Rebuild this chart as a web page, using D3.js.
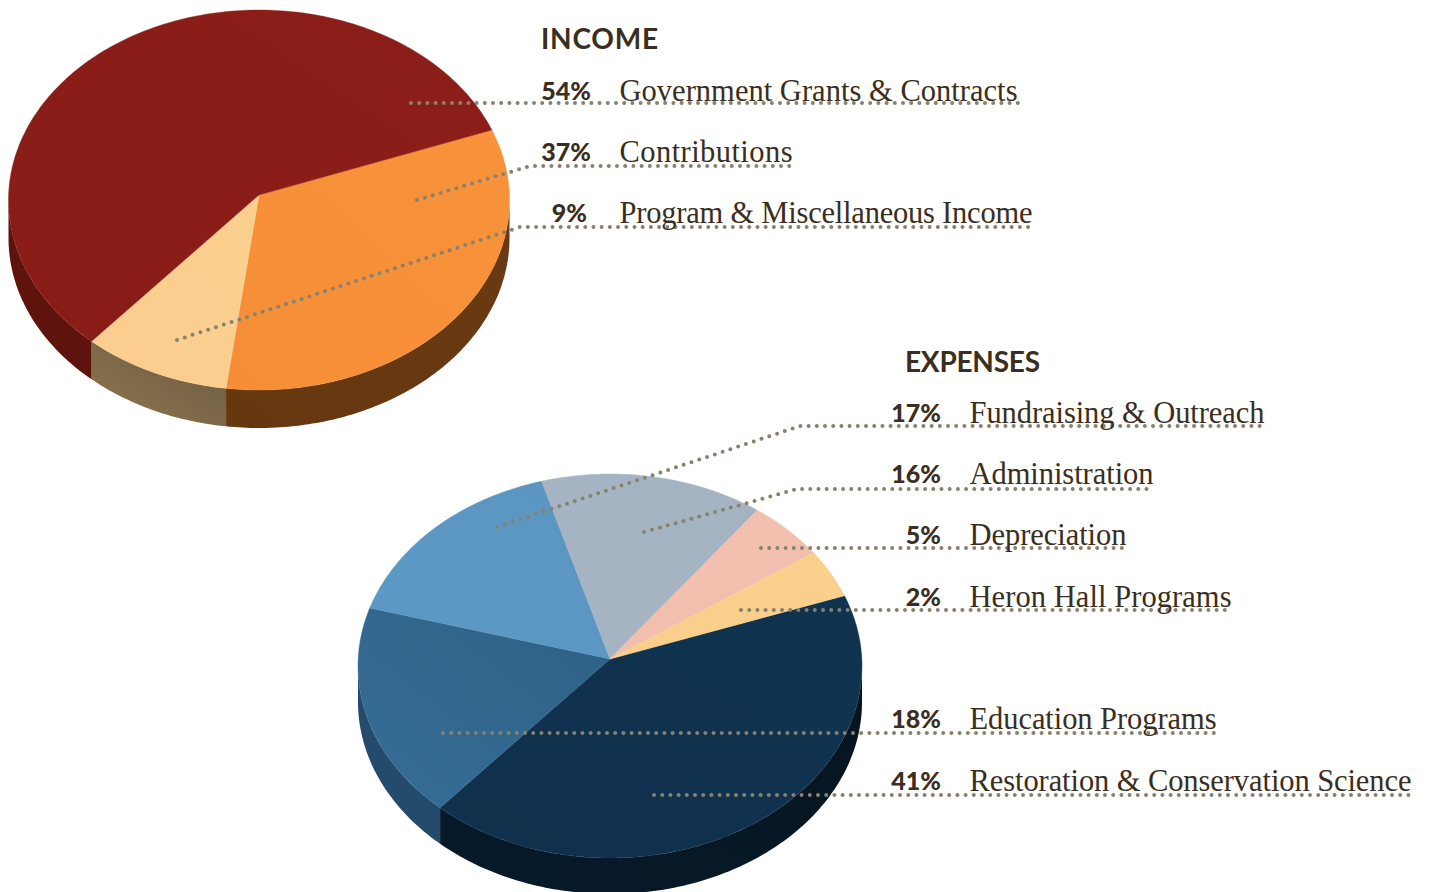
<!DOCTYPE html>
<html><head><meta charset="utf-8">
<script src="https://cdn.jsdelivr.net/npm/d3@7"></script>
<style>html,body{margin:0;background:#fff}svg{display:block}</style></head>
<body><div id="c"></div>
<script>
const incomeCategories = ["Government Grants & Contracts","Contributions","Program & Miscellaneous Income"];
const incomePercentLabels = ["54%","37%","9%"];
// wedge sizes (clockwise) as measured on the printed pie; they differ a little from the printed labels
const incomeWedgeNames = ["Contributions","Program & Miscellaneous Income","Government Grants & Contracts"];
const incomeWedges = [33.1,9.55,57.35];
const incomeTopColors = [["#f58e37","#f8923b"],["#fbcd8e","#fad08f"],["#8a1c17","#8b1e18"]];
const incomeSideColors = [["#66380f","#6b3a14"],["#8f7650","#6a5a41"],["#5e140c","#5e140c"]];

const expenseCategories = ["Restoration & Conservation Science","Education Programs","Fundraising & Outreach","Administration","Depreciation","Heron Hall Programs"];
const expensePercentLabels = ["41%","18%","17%","16%","5%","2%"];
const expenseWedges = [42.75,18.1,15.75,14.3,5.05,4.05];
const expenseTopColors = [["#10304c","#0f3350"],["#366e98","#2e6085"],["#5b99c5","#5b96c0"],["#a6b4c2","#a4b3c3"],["#f2bfae","#f3c0ae"],["#f9cf8b","#f9cf8b"]];
const expenseSideColors = [["#071a2a","#06141f"],["#264c6d","#234a6b"],["#264c6d","#264c6d"],["#264c6d","#264c6d"],["#264c6d","#264c6d"],["#264c6d","#264c6d"]];

const W=1430,H=892;
const svg=d3.select("#c").append("svg").attr("width",W).attr("height",H);
const defs=svg.append("defs");
const INK="#3a2e20", DOT="#86826f";
let gid=0;
function grad(pair){
  const id="g"+(gid++);
  const g=defs.append("linearGradient").attr("id",id).attr("x1",0).attr("y1",1).attr("x2",1).attr("y2",0);
  g.append("stop").attr("offset",0).attr("stop-color",pair[0]);
  g.append("stop").attr("offset",1).attr("stop-color",pair[1]);
  return `url(#${id})`;
}

function drawPie(g,cfg){
  const pie=d3.pie().sort(null).startAngle(cfg.start).endAngle(cfg.start+2*Math.PI).value(d=>d);
  const arcs=pie(cfg.values);
  const px=a=>cfg.rx*Math.sin(a), py=a=>-cfg.ry*Math.cos(a);
  const samples=(a0,a1)=>{const n=Math.max(8,Math.ceil((a1-a0)*60));return d3.range(0,n+1).map(j=>a0+(a1-a0)*j/n);};
  const lo=Math.PI/2, hi=3*Math.PI/2;
  arcs.forEach((d,i)=>{
    for(const off of [0,2*Math.PI]){
      const a0=Math.max(d.startAngle,lo+off), a1=Math.min(d.endAngle,hi+off);
      if(a1<=a0) continue;
      const t=samples(a0,a1);
      const top=t.map(a=>[px(a),py(a)]);
      const bot=t.slice().reverse().map(a=>[px(a),py(a)+cfg.depth]);
      g.append("path").attr("d",d3.line()(top.concat(bot))+"Z")
        .attr("fill",grad(cfg.sideColors[i]));
    }
  });
  arcs.forEach((d,i)=>{
    const rim=samples(d.startAngle,d.endAngle).map(a=>[px(a),py(a)]);
    g.append("path").attr("d",d3.line()([[0,cfg.apexDy],...rim])+"Z")
      .attr("fill",grad(cfg.topColors[i]))
      .attr("stroke",grad(cfg.topColors[i])).attr("stroke-width",0.4);
  });
}

const topPie=svg.append("g").attr("transform","translate(259,200)");
drawPie(topPie,{values:incomeWedges,start:68.4*Math.PI/180,rx:250.5,ry:190,depth:38,topColors:incomeTopColors,sideColors:incomeSideColors,apexDy:-5});
const botPie=svg.append("g").attr("transform","translate(610,666)");
drawPie(botPie,{values:expenseWedges,start:68.5*Math.PI/180,rx:252,ry:192,depth:36,topColors:expenseTopColors,sideColors:expenseSideColors,apexDy:-7});

const leaders=[
 [[411,103],[1018,103]],
 [[417,200],[530,166],[793,166]],
 [[177,340],[520,227],[1033,227]],
 [[497,527],[800,426],[1266,426]],
 [[644,532],[797,489],[1154,489]],
 [[761,548],[1126,548]],
 [[741,610],[1231,610]],
 [[443,733],[1216,733]],
 [[654,795],[1411,795]]
];
svg.append("g").selectAll("path").data(leaders).join("path")
  .attr("d",d=>d3.line()(d)).attr("fill","none").attr("stroke",DOT)
  .attr("stroke-width",4).attr("stroke-linecap","round").attr("stroke-dasharray","0 8.2");

function head(t,x,y,len){svg.append("text").attr("x",x).attr("y",y).text(t)
  .attr("font-family","Lato").attr("font-weight",700).attr("font-size",28).attr("fill",INK)
  .attr("textLength",len).attr("lengthAdjust","spacing");}
head("INCOME",541,49,117);head("EXPENSES",905,372,135);

function row(pct,name,pctRight,nameX,y,len){
  svg.append("text").attr("x",pctRight).attr("y",y).attr("text-anchor","end").text(pct)
    .attr("font-family","Lato").attr("font-weight",900).attr("font-size",25).attr("fill",INK);
  svg.append("text").attr("x",nameX).attr("y",y+1).text(name)
    .attr("font-family","'Liberation Serif'").attr("font-size",30.5).attr("fill",INK)
    .attr("textLength",len).attr("lengthAdjust","spacing");
}
const incomeY=[100,161,222], incomeRight=[591,591,587], incomeLen=[398,173,413];
incomeCategories.forEach((c,i)=>row(incomePercentLabels[i],c,incomeRight[i],619.5,incomeY[i],incomeLen[i]));
const expenseY=[790,728,422,483,544,606], expenseLen=[442,247,295,184,157,262];
expenseCategories.forEach((c,i)=>row(expensePercentLabels[i],c,941,969.5,expenseY[i],expenseLen[i]));
</script></body></html>
